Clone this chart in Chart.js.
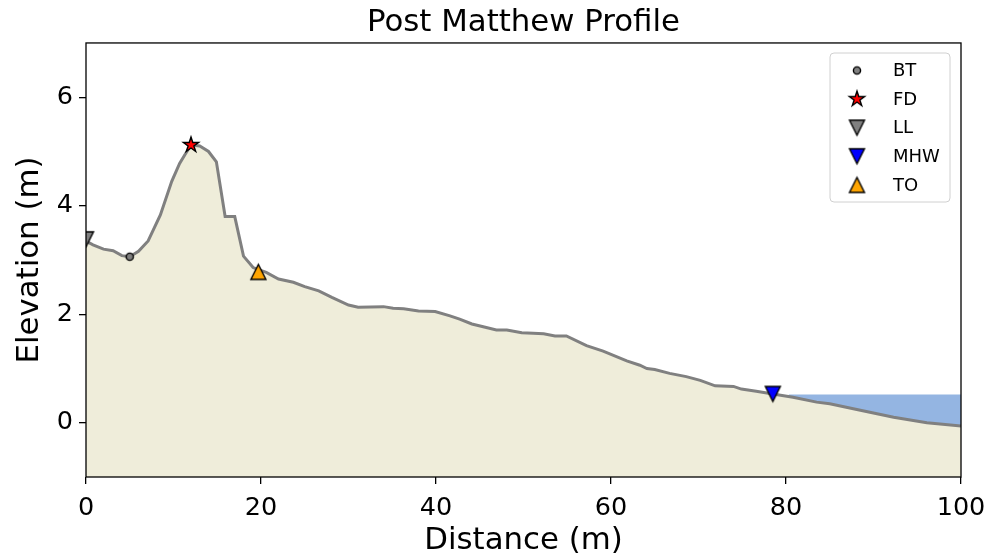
<!DOCTYPE html>
<html>
<head>
<meta charset="utf-8">
<script src="https://cdn.jsdelivr.net/npm/chart.js@4.4.1/dist/chart.umd.min.js"></script>
<style>
  html, body { margin: 0; padding: 0; background: #fff; }
</style>
</head>
<body>
<canvas id="profile" width="990" height="557"></canvas>
<script>
// profile survey
var distance = [0, 0.8, 2.0, 3.1, 4.1, 5.0, 6.0, 7.1, 8.5, 9.8, 10.7, 11.3, 12.0, 13.0, 14.0, 14.9,
    15.9, 17.0, 18.0, 19.1, 20.6, 22.0, 23.7, 25.0, 26.6, 28.1, 30.0, 31.1, 34.0, 35.1, 36.3,
    38.0, 39.9, 41.6, 42.7, 44.1, 45.4, 46.9, 48.1, 49.8, 51.1, 52.3, 53.6, 54.9, 57.2, 59.1,
    61.8, 63.3, 64.1, 65.0, 66.7, 68.6, 70.2, 71.9, 74.0, 74.9, 76.6, 78.5, 80.8, 83.5, 85.0,
    88.5, 92.3, 96.1, 100];
var elevation = [3.35, 3.28, 3.2, 3.17, 3.08, 3.06, 3.16, 3.35, 3.83, 4.45, 4.78, 4.94, 5.12, 5.1, 5.0, 4.81,
    3.80, 3.80, 3.07, 2.86, 2.77, 2.65, 2.59, 2.51, 2.43, 2.31, 2.17, 2.13, 2.14, 2.11, 2.10,
    2.06, 2.05, 1.97, 1.91, 1.82, 1.77, 1.71, 1.71, 1.66, 1.65, 1.64, 1.60, 1.60, 1.42, 1.32,
    1.14, 1.06, 1.00, 0.98, 0.91, 0.85, 0.78, 0.68, 0.67, 0.62, 0.58, 0.53, 0.47, 0.38, 0.35,
    0.23, 0.10, 0.00, -0.06];

var mhwLevel = 0.52;
var waterX = [80.3, 100];

var markerNames = ['BT', 'FD', 'LL', 'MHW', 'TO'];
var markerX = [5.0, 12.0, 0, 78.5, 19.7];
var markerY = [3.06, 5.12, 3.38, 0.53, 2.78];

var xTicks = [0, 20, 40, 60, 80, 100];
var yTicks = [0, 2, 4, 6];

var FONT = 'DejaVu Sans';

// matplotlib-like marker glyphs
function makeMarker(shape, fill, s) {
    var pad = 4;
    var c = document.createElement('canvas');
    c.width = c.height = Math.ceil(2 * s + 2 * pad);
    var g = c.getContext('2d');
    var m = c.width / 2;
    g.beginPath();
    if (shape == 'circle') {
        g.arc(m, m, s, 0, Math.PI * 2);
    } else if (shape == 'up') {
        g.moveTo(m, m - s); g.lineTo(m + s, m + s); g.lineTo(m - s, m + s); g.closePath();
    } else if (shape == 'down') {
        g.moveTo(m, m + s); g.lineTo(m + s, m - s); g.lineTo(m - s, m - s); g.closePath();
    } else if (shape == 'star') {
        for (var i = 0; i < 10; i++) {
            var r = i % 2 ? s * 0.382 : s;
            var a = -Math.PI / 2 + i * Math.PI / 5;
            g.lineTo(m + r * Math.cos(a), m + r * Math.sin(a));
        }
        g.closePath();
    }
    g.fillStyle = fill;
    g.fill();
    g.lineWidth = 1.4;
    g.strokeStyle = '#000';
    g.stroke();
    return c;
}

var icons = {
    BT: makeMarker('circle', '#808080', 3.6),
    FD: makeMarker('star', '#ff0000', 8),
    LL: makeMarker('down', '#808080', 7.5),
    MHW: makeMarker('down', '#0000ff', 7.5),
    TO: makeMarker('up', '#ffa500', 7.5)
};

var datasets = markerNames.map(function (name, i) {
    return {
        label: name,
        data: [{x: markerX[i], y: markerY[i]}],
        showLine: false,
        pointStyle: icons[name],
        pointRadius: 8,
        clip: 0,
        order: 0
    };
});

datasets.push({
    label: 'profile',
    data: distance.map(function (d, i) { return {x: d, y: elevation[i]}; }),
    showLine: true,
    borderColor: '#808080',
    borderWidth: 3,
    pointRadius: 0,
    fill: 'start',
    backgroundColor: '#efedda',
    order: 1
});

datasets.push({
    label: 'water',
    data: waterX.map(function (x) { return {x: x, y: mhwLevel}; }),
    showLine: true,
    borderWidth: 0,
    borderColor: 'rgba(0,0,0,0)',
    pointRadius: 0,
    fill: 'start',
    backgroundColor: '#94b5e2',
    order: 2
});

// axes box + legend drawn on top like matplotlib
var framePlugin = {
    id: 'frame',
    afterDraw: function (chart) {
        var ctx = chart.ctx, a = chart.chartArea;
        ctx.save();
        ctx.strokeStyle = '#000';
        ctx.lineWidth = 1.3;
        ctx.strokeRect(a.left, a.top, a.right - a.left, a.bottom - a.top);

        // legend
        var bx = 830, by = 53, bw = 120, bh = 149, r = 4;
        ctx.beginPath();
        ctx.moveTo(bx + r, by);
        ctx.arcTo(bx + bw, by, bx + bw, by + bh, r);
        ctx.arcTo(bx + bw, by + bh, bx, by + bh, r);
        ctx.arcTo(bx, by + bh, bx, by, r);
        ctx.arcTo(bx, by, bx + bw, by, r);
        ctx.closePath();
        ctx.fillStyle = 'rgba(255,255,255,0.8)';
        ctx.fill();
        ctx.strokeStyle = '#d0d0d0';
        ctx.lineWidth = 1;
        ctx.stroke();

        ctx.fillStyle = '#000';
        ctx.font = '18px "' + FONT + '"';
        ctx.textBaseline = 'middle';
        ctx.textAlign = 'left';
        markerNames.forEach(function (name, i) {
            var y = 70.5 + i * 28.6;
            var ic = icons[name];
            ctx.drawImage(ic, 857 - ic.width / 2, y - ic.height / 2);
            ctx.fillText(name, 893, y + 1);
        });
        ctx.restore();
    }
};

var chart = new Chart(document.getElementById('profile'), {
    type: 'scatter',
    data: {datasets: datasets},
    plugins: [framePlugin],
    options: {
        responsive: false,
        animation: false,
        layout: {padding: {left: 0, right: 29, top: 0, bottom: 0}},
        plugins: {
            legend: {display: false},
            tooltip: {enabled: false},
            title: {
                display: true,
                fullSize: false,
                text: 'Post Matthew Profile',
                color: '#000',
                font: {family: FONT, size: 30.8, weight: 'normal'},
                padding: {top: 5, bottom: 1}
            }
        },
        scales: {
            x: {
                type: 'linear',
                min: 0,
                max: 100,
                afterFit: function (s) { s.height = 80; s.paddingLeft = 0; s.paddingRight = 0; },
                afterBuildTicks: function (s) { s.ticks = xTicks.map(function (v) { return {value: v}; }); },
                border: {display: false},
                grid: {drawOnChartArea: false, drawTicks: true, tickLength: 7, color: '#000', lineWidth: 1.3},
                ticks: {color: '#000', padding: 9, maxRotation: 0, font: {family: FONT, size: 25.5}},
                title: {display: true, text: 'Distance (m)', color: '#000', padding: {top: 0, bottom: -2},
                    font: {family: FONT, size: 30.8}}
            },
            y: {
                min: -1,
                max: 7,
                afterFit: function (s) { s.width = 86; s.paddingTop = 0; s.paddingBottom = 0; },
                afterBuildTicks: function (s) { s.ticks = yTicks.map(function (v) { return {value: v}; }); },
                border: {display: false},
                grid: {drawOnChartArea: false, drawTicks: true, tickLength: 7, color: '#000', lineWidth: 1.3},
                ticks: {color: '#000', padding: 6, font: {family: FONT, size: 25.5}},
                title: {display: true, text: 'Elevation (m)', color: '#000', padding: {top: 12, bottom: 0},
                    font: {family: FONT, size: 30.8}}
            }
        }
    }
});
</script>
</body>
</html>
